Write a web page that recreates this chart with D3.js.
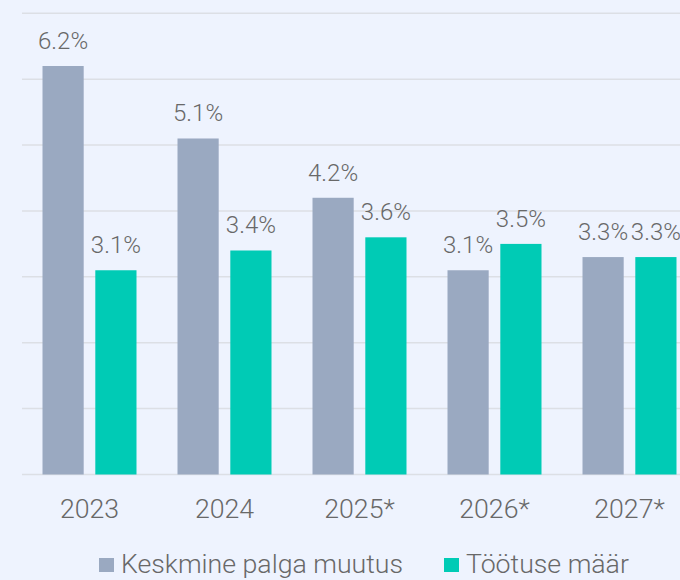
<!DOCTYPE html>
<html>
<head>
<meta charset="utf-8">
<script src="https://cdn.jsdelivr.net/npm/d3@7"></script>
<style>
  html, body { margin: 0; padding: 0; background: #EEF3FE; }
  svg { display: block; }
  text { font-family: Roboto, "Noto Sans", sans-serif; font-weight: 300; fill: #686868; }
</style>
</head>
<body>
<svg id="chart" width="680" height="580"></svg>
<script>
const categories = ["2023", "2024", "2025*", "2026*", "2027*"];
const seriesNames = ["Keskmine palga muutus", "Töötuse määr"];
const wageChange = [6.2, 5.1, 4.2, 3.1, 3.3];
const unemployment = [3.1, 3.4, 3.6, 3.5, 3.3];
const yTicks = [0, 1, 2, 3, 4, 5, 6, 7];
const colors = ["#9AA9C1", "#00CBB5"];

const svg = d3.select("#chart");
const x0 = 22, x1 = 22 + 135 * 5;
const yBase = 474.5, yTop = 13.3;

const x = d3.scaleBand().domain(categories).range([x0, x1]).paddingInner(0).paddingOuter(0);
const inner = d3.scaleBand().domain(seriesNames).range([20.5, 114.5]).paddingInner(0.22);
const y = d3.scaleLinear().domain([0, 7]).range([yBase, yTop]);

// gridlines
svg.append("g").selectAll("line").data(yTicks).join("line")
  .attr("x1", x0).attr("x2", 680)
  .attr("y1", d => y(d)).attr("y2", d => y(d))
  .attr("stroke", "#DCDFE5").attr("stroke-width", 1.5);

const series = [wageChange, unemployment];
const rows = [];
categories.forEach((c, i) => {
  seriesNames.forEach((s, j) => rows.push({ cat: c, s, j, v: series[j][i] }));
});

svg.append("g").selectAll("rect").data(rows).join("rect")
  .attr("x", d => x(d.cat) + inner(d.s))
  .attr("width", inner.bandwidth())
  .attr("y", d => y(d.v))
  .attr("height", d => y(0) - y(d.v))
  .attr("fill", d => colors[d.j]);

svg.append("g").selectAll("text").data(rows).join("text")
  .attr("x", d => x(d.cat) + inner(d.s) + inner.bandwidth() / 2)
  .attr("y", d => y(d.v) - 17)
  .attr("text-anchor", "middle")
  .attr("font-size", 24)
  .text(d => d.v.toFixed(1) + "%");

// x axis
const xAxis = d3.axisBottom(x).tickSize(0).tickPadding(0);
const gx = svg.append("g").attr("transform", `translate(0,${yBase})`).call(xAxis);
gx.select(".domain").remove();
gx.selectAll("text").attr("dy", null).attr("y", 43)
  .attr("font-size", 26.7).attr("font-family", null).style("fill", "#686868");

// legend
const legendItems = [
  { name: seriesNames[0], color: colors[0], x: 99 },
  { name: seriesNames[1], color: colors[1], x: 444 }
];
const lg = svg.append("g");
legendItems.forEach(it => {
  lg.append("rect").attr("x", it.x).attr("y", 558).attr("width", 15).attr("height", 14).attr("fill", it.color);
  lg.append("text").attr("x", it.x + 22).attr("y", 573).attr("font-size", 26.7).text(it.name);
});
</script>
</body>
</html>
